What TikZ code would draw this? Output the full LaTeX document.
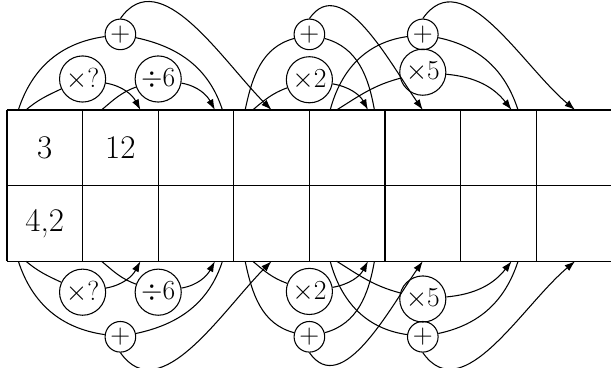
\documentclass[tikz,border=0pt]{standalone}
\usetikzlibrary{arrows.meta}
\begin{document}
\begin{tikzpicture}[
  line width=0.8pt,
  op/.style={circle,draw,inner sep=0pt,minimum size=1.22cm,font=\fontsize{20.74}{25}\selectfont},
  plusop/.style={circle,draw,inner sep=0pt,minimum size=0.81cm,font=\fontsize{20.74}{25}\selectfont},
  cell/.style={font=\fontsize{24.88}{30}\selectfont},
  arr/.style={-{Latex[length=8pt,width=5.5pt]}},
]
\useasboundingbox (-0.185,-6.80) rectangle (15.979,2.91);
% table
\foreach \y in {0,-2,-4} \draw (0,\y) -- (16,\y);
\foreach \x in {0,2,...,14} \draw (\x,0) -- (\x,-4);
\node[cell] (c11) at (1,-1) {3};
\node[cell] (c12) at (3,-1) {12};
\node[cell] (c21) at (1,-3) {4,2};

% ---------- top ----------
\node[plusop] (pA) at (3,2) {$+$};
\node[op] (mq) at (2,0.82) {$\times?$};
\node[op] (d6) at (4,0.82) {$\div6$};
\node[plusop] (pB) at (8,2) {$+$};
\node[op] (m2) at (8,0.80) {$\times2$};
\node[plusop] (pC) at (11,2) {$+$};
\node[op] (m5) at (11,1.0) {$\times5$};

\coordinate (tA1) at (0.3,0);  \coordinate (tA2) at (5.7,0);
\coordinate (tq1) at (0.5,0);  \coordinate (tq2) at (3.53,0);
\coordinate (td1) at (2.5,0);  \coordinate (td2) at (5.5,0);
\coordinate (tAt) at (7,0);
\coordinate (tB1) at (6.3,0);  \coordinate (tB2) at (9.72,0);
\coordinate (t21) at (6.5,0);  \coordinate (t22) at (9.55,0);
\coordinate (tBt) at (11,0);
\coordinate (tC1) at (8.55,0); \coordinate (tC2) at (13.52,0);
\coordinate (t51) at (8.72,0); \coordinate (t52) at (13.35,0);
\coordinate (tCt) at (15.03,0);

\draw (tA1) to[out=72,in=188] (pA);
\draw (pA) to[out=-12,in=108] (tA2);
\draw[arr] (pA.north) to[out=55,in=135] (tAt);
\draw (tq1) to[out=40,in=205] (mq);
\draw[arr] (mq) to[out=-10,in=118] (tq2);
\draw (td1) to[out=40,in=200] (d6);
\draw[arr] (d6) to[out=-10,in=118] (td2);

\draw (tB1) to[out=78,in=195] (pB);
\draw (pB) to[out=-15,in=100] (tB2);
\draw[arr] (pB.north) to[out=55,in=125] (tBt);
\draw (t21) to[out=40,in=200] (m2);
\draw[arr] (m2) to[out=-10,in=118] (t22);

\draw (tC1) to[out=75,in=188] (pC);
\draw (pC) to[out=-12,in=108] (tC2);
\draw[arr] (pC.north) to[out=55,in=140] (tCt);
\draw (t51) to[out=32,in=195] (m5);
\draw[arr] (m5) to[out=-5,in=128] (t52);

% ---------- bottom (mirror) ----------
\node[plusop] (pAb) at (3,-6) {$+$};
\node[op] (mqb) at (2,-4.82) {$\times?$};
\node[op] (d6b) at (4,-4.82) {$\div6$};
\node[plusop] (pBb) at (8,-6) {$+$};
\node[op] (m2b) at (8,-4.80) {$\times2$};
\node[plusop] (pCb) at (11,-6) {$+$};
\node[op] (m5b) at (11,-5.0) {$\times5$};

\coordinate (bA1) at (0.3,-4);  \coordinate (bA2) at (5.7,-4);
\coordinate (bq1) at (0.5,-4);  \coordinate (bq2) at (3.53,-4);
\coordinate (bd1) at (2.5,-4);  \coordinate (bd2) at (5.5,-4);
\coordinate (bAt) at (7,-4);
\coordinate (bB1) at (6.3,-4);  \coordinate (bB2) at (9.72,-4);
\coordinate (b21) at (6.5,-4);  \coordinate (b22) at (9.55,-4);
\coordinate (bBt) at (11,-4);
\coordinate (bC1) at (8.55,-4); \coordinate (bC2) at (13.52,-4);
\coordinate (b51) at (8.72,-4); \coordinate (b52) at (13.35,-4);
\coordinate (bCt) at (15.03,-4);

\draw (bA1) to[out=-72,in=172] (pAb);
\draw (pAb) to[out=12,in=-108] (bA2);
\draw[arr] (pAb.south) to[out=-55,in=-135] (bAt);
\draw (bq1) to[out=-40,in=155] (mqb);
\draw[arr] (mqb) to[out=10,in=-118] (bq2);
\draw (bd1) to[out=-40,in=160] (d6b);
\draw[arr] (d6b) to[out=10,in=-118] (bd2);

\draw (bB1) to[out=-78,in=165] (pBb);
\draw (pBb) to[out=15,in=-100] (bB2);
\draw[arr] (pBb.south) to[out=-55,in=-125] (bBt);
\draw (b21) to[out=-40,in=160] (m2b);
\draw[arr] (m2b) to[out=10,in=-118] (b22);

\draw (bC1) to[out=-75,in=172] (pCb);
\draw (pCb) to[out=12,in=-108] (bC2);
\draw[arr] (pCb.south) to[out=-55,in=-140] (bCt);
\draw (b51) to[out=-32,in=165] (m5b);
\draw[arr] (m5b) to[out=5,in=-128] (b52);
\end{tikzpicture}
\end{document}
